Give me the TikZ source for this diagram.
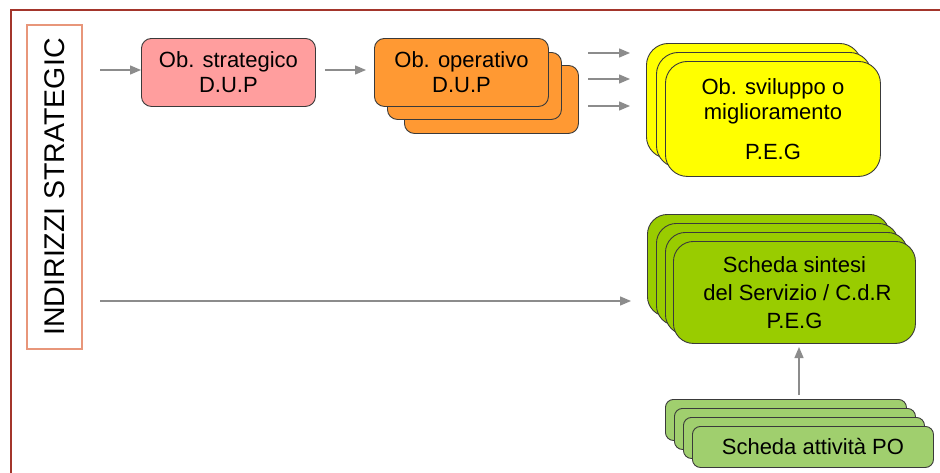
\documentclass[tikz,border=0pt]{standalone}
\usepackage{fontspec}
\setmainfont{Liberation Sans}
\usetikzlibrary{arrows.meta}
\definecolor{framered}{HTML}{A3352B}
\definecolor{salmon}{HTML}{E8967A}
\definecolor{edgegray}{HTML}{3A3A3A}
\definecolor{arrowgray}{HTML}{8C8C8C}
\definecolor{pinkfill}{HTML}{FF9E9E}
\definecolor{orangefill}{HTML}{FF9933}
\definecolor{yellowfill}{HTML}{FFFF00}
\definecolor{greenfill}{HTML}{99CC00}
\definecolor{lightgreenfill}{HTML}{A0CF6E}
\begin{document}
\begin{tikzpicture}[x=1pt,y=-1pt,
  bx/.style={draw=edgegray, line width=0.9pt, inner sep=0pt, align=center, anchor=north west,
    font=\fontsize{22}{25}\selectfont},
  conn/.style={draw=arrowgray, line width=1.3pt, -{Triangle[length=11pt,width=9pt]}},
]
\clip (0,0) rectangle (940,472);
\fill[white] (0,0) rectangle (940,472);
% outer frame
\draw[framered, line width=2pt] (11,600) -- (11,10) -- (1000,10);
% vertical label
\node[draw=salmon, line width=1.2pt, rotate=90, minimum width=324pt, minimum height=55pt, inner sep=0pt,
  font=\fontsize{28.5}{32}\selectfont] (label) at (54.5,187) {INDIRIZZI STRATEGIC};
% pink box
\node[bx, fill=pinkfill, rounded corners=10pt, minimum width=174pt, minimum height=68pt] (strat) at (141,38)
  {Ob. strategico\\D.U.P};
% orange stack
\node[bx, fill=orangefill, rounded corners=10pt, minimum width=174pt, minimum height=68pt] (op3) at (404,65) {};
\node[bx, fill=orangefill, rounded corners=10pt, minimum width=174pt, minimum height=67pt] (op2) at (387,52) {};
\node[bx, fill=orangefill, rounded corners=10pt, minimum width=174pt, minimum height=68pt] (op1) at (374,38)
  {Ob. operativo\\D.U.P};
% yellow stack
\node[bx, fill=yellowfill, rounded corners=22pt, minimum width=215pt, minimum height=115pt] (sv3) at (646,43) {};
\node[bx, fill=yellowfill, rounded corners=22pt, minimum width=215pt, minimum height=115pt] (sv2) at (656,52) {};
\node[bx, fill=yellowfill, rounded corners=22pt, minimum width=215pt, minimum height=115pt] (sv1) at (665,61)
  {Ob. sviluppo o\\miglioramento\\[15pt]P.E.G};
% green stack
\node[bx, fill=greenfill, rounded corners=20pt, minimum width=242pt, minimum height=102pt] (sc4) at (647,214) {};
\node[bx, fill=greenfill, rounded corners=20pt, minimum width=242pt, minimum height=102pt] (sc3) at (656,223) {};
\node[bx, fill=greenfill, rounded corners=20pt, minimum width=242pt, minimum height=102pt] (sc2) at (665,232) {};
\node[bx, fill=greenfill, rounded corners=20pt, minimum width=242pt, minimum height=102pt,
  font=\fontsize{22}{28}\selectfont] (sc1) at (673,241)
  {Scheda sintesi\\\hspace*{6pt}del Servizio / C.d.R\\P.E.G};
% light green stack
\node[bx, fill=lightgreenfill, rounded corners=8pt, minimum width=241pt, minimum height=41pt] (po4) at (665,399) {};
\node[bx, fill=lightgreenfill, rounded corners=8pt, minimum width=241pt, minimum height=41pt] (po3) at (674,408) {};
\node[bx, fill=lightgreenfill, rounded corners=8pt, minimum width=241pt, minimum height=41pt] (po2) at (683,417) {};
\node[bx, fill=lightgreenfill, rounded corners=8pt, minimum width=241pt, minimum height=41pt] (po1) at (692,426)
  {Scheda attività PO};
% connector ends
\coordinate (s1) at (100,70);
\coordinate (s2) at (100,301);
\coordinate (a1s) at (588,53);  \coordinate (a1e) at (630,53);
\coordinate (a2s) at (588,79);  \coordinate (a2e) at (630,79);
\coordinate (a3s) at (588,106); \coordinate (a3e) at (630,106);
\coordinate (g1e) at (631,301);
\coordinate (v1s) at (799,395);
\coordinate (v1e) at (799,347);
% connectors
\draw[conn] (s1) -- (s1 -| strat.west);
\draw[conn, shorten <=9pt, shorten >=8pt] (strat.east |- s1) -- (op1.west |- s1);
\draw[conn] (a1s) -- (a1e);
\draw[conn] (a2s) -- (a2e);
\draw[conn] (a3s) -- (a3e);
\draw[conn] (s2) -- (g1e);
\draw[conn] (v1s) -- (v1e);
\end{tikzpicture}
\end{document}
